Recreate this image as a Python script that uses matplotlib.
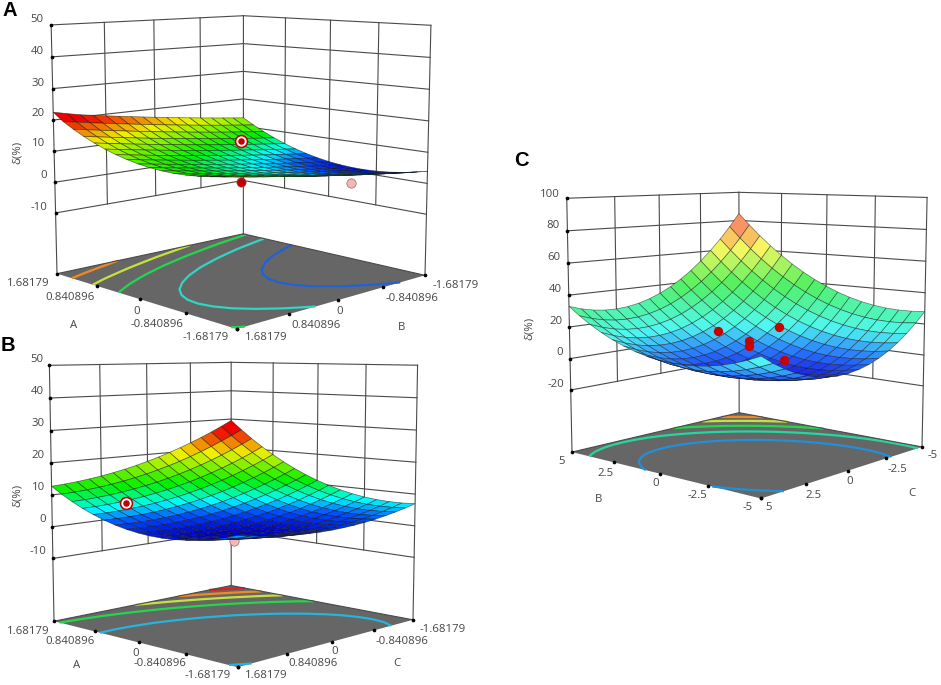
import numpy as np
import matplotlib
matplotlib.use('Agg')
import matplotlib.pyplot as plt
from matplotlib.colors import LinearSegmentedColormap
from mpl_toolkits.mplot3d import proj3d

W, H = 941, 685

A_AB = [
 [3.9,4.35,4.81,5.28,5.77,6.28,6.81,7.35,7.9,8.47,9.06,9.66,10.28,10.91,11.56,12.22,12.9],
 [2.95,3.4,3.86,4.33,4.82,5.33,5.86,6.4,6.95,7.52,8.11,8.71,9.33,9.96,10.61,11.27,11.95],
 [2.21,2.66,3.12,3.59,4.08,4.59,5.12,5.66,6.21,6.78,7.37,7.97,8.59,9.22,9.87,10.53,11.21],
 [1.66,2.11,2.57,3.04,3.53,4.04,4.57,5.11,5.66,6.23,6.82,7.42,8.04,8.67,9.32,9.98,10.66],
 [1.33,1.78,2.24,2.71,3.2,3.71,4.24,4.78,5.33,5.9,6.49,7.09,7.71,8.34,8.99,9.65,10.33],
 [1.19,1.64,2.1,2.57,3.06,3.57,4.1,4.64,5.19,5.76,6.35,6.95,7.57,8.2,8.85,9.51,10.19],
 [1.26,1.71,2.17,2.64,3.13,3.64,4.17,4.71,5.26,5.83,6.42,7.02,7.64,8.27,8.92,9.58,10.26],
 [1.53,1.98,2.44,2.91,3.4,3.91,4.44,4.98,5.53,6.1,6.69,7.29,7.91,8.54,9.19,9.85,10.53],
 [2,2.45,2.91,3.38,3.87,4.38,4.91,5.45,6,6.57,7.16,7.76,8.38,9.01,9.66,10.32,11],
 [2.68,3.13,3.59,4.06,4.55,5.06,5.59,6.13,6.68,7.25,7.84,8.44,9.06,9.69,10.34,11,11.68],
 [3.56,4.01,4.47,4.94,5.43,5.94,6.47,7.01,7.56,8.13,8.72,9.32,9.94,10.57,11.22,11.88,12.56],
 [4.64,5.09,5.55,6.02,6.51,7.02,7.55,8.09,8.64,9.21,9.8,10.4,11.02,11.65,12.3,12.96,13.64],
 [5.93,6.38,6.84,7.31,7.8,8.31,8.84,9.38,9.93,10.5,11.09,11.69,12.31,12.94,13.59,14.25,14.93],
 [7.41,7.86,8.32,8.79,9.28,9.79,10.32,10.86,11.41,11.98,12.57,13.17,13.79,14.42,15.07,15.73,16.41],
 [9.11,9.56,10.02,10.49,10.98,11.49,12.02,12.56,13.11,13.68,14.27,14.87,15.49,16.12,16.77,17.43,18.11],
 [11,11.45,11.91,12.38,12.87,13.38,13.91,14.45,15,15.57,16.16,16.76,17.38,18.01,18.66,19.32,20],
 [13.1,13.55,14.01,14.48,14.97,15.48,16.01,16.55,17.1,17.67,18.26,18.86,19.48,20.11,20.76,21.6,22.5]]
B_AC = [
 [7.0,6.13,5.39,4.74,4.2,3.77,3.44,3.22,3.1,3.08,3.19,3.39,3.7,4.12,4.63,5.27,6.0],
 [6.76,5.84,5.03,4.32,3.72,3.22,2.84,2.55,2.37,2.29,2.33,2.48,2.72,3.08,3.53,4.1,4.78],
 [6.75,5.76,4.89,4.12,3.46,2.9,2.45,2.1,1.86,1.72,1.7,1.78,1.96,2.26,2.65,3.16,3.77],
 [6.95,5.9,4.97,4.14,3.42,2.79,2.28,1.87,1.57,1.37,1.29,1.31,1.42,1.66,1.99,2.44,2.99],
 [7.37,6.26,5.27,4.38,3.59,2.91,2.34,1.86,1.5,1.24,1.09,1.05,1.11,1.28,1.55,1.94,2.43],
 [8.01,6.83,5.78,4.82,3.98,3.23,2.6,2.06,1.64,1.32,1.11,1.01,1.0,1.12,1.32,1.65,2.07],
 [8.87,7.64,6.52,5.5,4.6,3.79,3.09,2.5,2.01,1.62,1.36,1.19,1.12,1.18,1.32,1.58,1.95],
 [9.96,8.66,7.48,6.4,5.43,4.56,3.81,3.15,2.6,2.15,1.82,1.6,1.47,1.46,1.54,1.74,2.04],
 [11.25,9.89,8.65,7.51,6.48,5.55,4.73,4.01,3.4,2.89,2.5,2.21,2.02,1.95,1.97,2.11,2.35],
 [12.76,11.34,10.04,8.84,7.75,6.76,5.87,5.09,4.42,3.85,3.4,3.04,2.79,2.66,2.62,2.7,2.88],
 [14.5,13.01,11.65,10.39,9.23,8.18,7.24,6.39,5.66,5.03,4.51,4.1,3.79,3.59,3.49,3.51,3.62],
 [16.45,14.91,13.48,12.16,10.94,9.83,8.82,7.92,7.12,6.42,5.85,5.37,5.0,4.74,4.58,4.53,4.59],
 [18.63,17.02,15.53,14.14,12.87,11.69,10.62,9.66,8.8,8.04,7.41,6.87,6.43,6.12,5.89,5.78,5.77],
 [21.01,19.34,17.79,16.34,15.0,13.77,12.64,11.61,10.69,9.87,9.17,8.57,8.08,7.7,7.41,7.24,7.17],
 [23.61,21.88,20.27,18.76,17.36,16.06,14.87,13.78,12.8,11.92,11.16,10.5,9.94,9.5,9.15,8.92,8.79],
 [26.46,24.66,22.99,21.42,19.96,18.6,17.34,16.19,15.15,14.21,13.39,12.66,12.04,11.54,11.13,10.84,10.64],
 [29.5,27.65,25.91,24.28,22.76,21.33,20.02,18.8,17.7,16.7,15.81,15.03,14.34,13.78,13.31,12.95,12.7]]
C_BC = [
 [28,21.69,16.16,11.38,7.37,4.14,1.65,-.05,-1,-1.19,-.59,.76,2.88,5.76,9.4,13.83,19],
 [27.34,20.87,15.16,10.22,6.05,2.64,-.01,-1.89,-3,-3.35,-2.93,-1.74,.2,2.92,6.4,10.65,15.66],
 [27.26,20.62,14.74,9.63,5.29,1.72,-1.11,-3.15,-4.43,-4.95,-4.69,-3.68,-1.9,.65,3.96,8.04,12.88],
 [27.72,20.91,14.87,9.59,5.08,1.34,-1.65,-3.86,-5.31,-6.0,-5.91,-5.06,-3.45,-1.07,2.07,5.99,10.66],
 [28.74,21.77,15.56,10.11,5.43,1.52,-1.63,-4.01,-5.63,-6.49,-6.57,-5.88,-4.44,-2.23,.74,4.49,9.0],
 [30.34,23.19,16.82,11.2,6.35,2.28,-1.05,-3.59,-5.38,-6.41,-6.65,-6.14,-4.86,-2.82,-.02,3.57,7.9],
 [32.49,25.18,18.63,12.85,7.84,3.59,.1,-2.62,-4.57,-5.76,-6.18,-5.83,-4.73,-2.85,-.21,3.2,7.37],
 [35.22,27.73,21.02,15.07,9.89,5.48,1.81,-1.07,-3.19,-4.55,-5.13,-4.96,-4.02,-2.31,.16,3.41,7.4],
 [38.5,30.85,23.97,17.85,12.5,7.92,4.09,1.04,-1.25,-2.78,-3.53,-3.52,-2.75,-1.21,1.09,4.17,8.0],
 [42.34,34.53,27.48,21.19,15.67,10.92,6.93,3.71,1.25,-.45,-1.37,-1.52,-.92,.45,2.58,5.49,9.16],
 [46.76,38.77,31.56,25.1,19.41,14.5,10.33,6.95,4.32,2.45,1.37,1.04,1.48,2.68,4.64,7.39,10.88],
 [51.72,43.57,36.18,29.56,23.71,18.62,14.29,10.73,7.94,5.91,4.65,4.16,4.42,5.46,7.26,9.83,13.16],
 [57.26,48.93,41.38,34.59,28.57,23.32,18.81,15.09,12.13,9.93,8.51,7.84,7.94,8.81,10.44,12.85,16.0],
 [63.34,54.85,47.13,40.17,33.98,28.56,23.89,20.0,16.87,14.5,12.91,12.08,12.01,12.71,14.17,16.41,19.4],
 [70.0,61.34,53.46,46.33,39.97,34.38,29.55,25.49,22.19,19.65,17.89,16.9,16.66,17.19,18.48,20.56,23.38],
 [77.22,68.39,60.34,53.04,46.51,40.76,35.75,31.53,28.06,25.35,23.43,22.26,21.86,22.22,23.34,25.25,27.9],
 [85,76.01,67.78,60.32,53.63,47.7,42.53,38.13,34.5,31.63,29.53,28.2,27.62,27.82,28.78,30.51,33]]

ticks_coded = [-1.68179,-0.840896,0,0.840896,1.68179]
ticks_c = [-5,-2.5,0,2.5,5]
z_ticks_ab = [-10,0,10,20,30,40,50]
z_ticks_c = [-20,0,20,40,60,80,100]

A_levels = [5,9,12.5,15.5,19]
B_levels = [5.2,11.5,16.5,21,25.5]
C_levels = [9.5,25,39,54,68]
A_lc = ['#1f62d8','#2fd6c4','#22d84a','#c6e23a','#f08a20']
B_lc = ['#25b4dc','#22d84a','#c6e23a','#f08a20','#e02020']
C_lc = ['#2090d8','#22d8a0','#22d84a','#c6e23a','#f08a20']

A_ring = [0,0,13.5]
A_hidden = [[0,0,.3,'#c00000'],[-1,-1,0,'#f4b8b0']]
B_ring = [1,1,7.3]
B_hidden = [[0,0,-4.5,'#f4b8b0']]
C_pts = [[.85,.85,16.7],[-.85,-.85,19],[0,0,10],[0,0,7],[-1,-1,-2]]

rainbow = LinearSegmentedColormap.from_list('rb',[(0,'#0000c8'),(.1,'#0050ff'),(.2,'#00ffff'),(.36,'#00f000'),(.65,'#f0f000'),(.88,'#f00000'),(1,'#f00000')])
pale = LinearSegmentedColormap.from_list('pl',[(0,'#1818e0'),(.1,'#2878ff'),(.24,'#50f8f0'),(.5,'#50f060'),(.75,'#f8f860'),(.88,'#f8a060'),(1,'#f87070')])

fig = plt.figure(figsize=(W/100,H/100),dpi=100)
LC='#4a4a4a'

def panel(Zt, xt, zt, zfloor, vmin, vmax, cmap, levels, lcols, corners, elev, azim, focal, zasp, edge):
    Z=np.array(Zt,float); n=Z.shape[0]
    lo,hi=xt[0],xt[-1]
    g=np.linspace(lo,hi,n)
    X,Y=np.meshgrid(g,g,indexing='ij')
    ax=fig.add_axes([.1,.1,.5,.5*W/H],projection='3d',computed_zorder=False)
    ax.set_proj_type('persp',focal_length=focal)
    ax.view_init(elev=elev,azim=azim)
    ax.set_box_aspect((1,1,zasp))
    ax.set_xlim(lo,hi,view_margin=0);ax.set_ylim(lo,hi,view_margin=0);ax.set_zlim(zfloor,zt[-1],view_margin=0)
    ax.set_axis_off()
    ax.patch.set_visible(False)
    ax.plot_surface(np.array([[lo,lo],[hi,hi]]),np.array([[lo,hi],[lo,hi]]),np.full((2,2),zfloor),color='#666666',shade=False,zorder=1,linewidth=0)
    ax.contour(X,Y,Z,levels=levels,colors=lcols,linewidths=1.6,zdir='z',offset=zfloor,zorder=2)
    kw=dict(color=LC,lw=.8,zorder=3)
    for z in zt:
        ax.plot([hi,hi],[lo,hi],[z,z],**kw)
        ax.plot([lo,hi],[lo,lo],[z,z],**kw)
    for t in xt[1:-1]:
        ax.plot([hi,hi],[t,t],[zt[0],zt[-1]],**kw)
        ax.plot([t,t],[lo,lo],[zt[0],zt[-1]],**kw)
    ax.plot([hi,hi],[hi,hi],[zfloor,zt[-1]],**kw)
    ax.plot([hi,hi],[lo,lo],[zfloor,zt[-1]],**kw)
    ax.plot([lo,lo],[lo,lo],[zfloor,zt[-1]],**kw)
    ax.plot([hi,hi],[hi,lo],[zfloor,zfloor],**kw)
    ax.plot([hi,lo],[lo,lo],[zfloor,zfloor],**kw)
    dot=dict(c='k',s=7,depthshade=False,zorder=3,linewidths=0)
    ax.scatter([hi]*len(zt),[hi]*len(zt),zt,**dot)
    ax.scatter(list(xt),[hi]*5,[zfloor]*5,**dot)
    ax.scatter([lo]*5,list(xt),[zfloor]*5,**dot)
    ax.plot_surface(X,Y,Z,rcount=n,ccount=n,cmap=cmap,vmin=vmin,vmax=vmax,shade=False,edgecolor=(0.08,0.08,0.08,edge),linewidth=.5,zorder=4)
    (lx,ly),(rx,ry)=corners
    def meas():
        ax.apply_aspect()
        M=ax.get_proj()
        out=[]
        for P in [(hi,hi,zfloor),(lo,lo,zfloor)]:
            xd,yd,_=proj3d.proj_transform(*P,M)
            out.append(ax.transData.transform((xd,yd)))
        return np.array(out)
    S0=.5*W
    m=meas()
    S=S0*(rx-lx)/(m[1,0]-m[0,0])
    ax.set_position([.1,.1,S/W,S/H])
    m=meas()
    dx=(lx+rx)/2-m[:,0].mean(); dy=(H-(ly+ry)/2)-m[:,1].mean()
    ax.set_position([.1+dx/W,.1+dy/H,S/W,S/H])
    return ax

def ring(ax,p):
    for s,c in [(95,'#c00000'),(55,'#ffffff'),(22,'#c00000')]:
        ax.scatter([p[0]],[p[1]],[p[2]],c=c,s=s,depthshade=False,zorder=5,linewidths=0)
def hidden(ax,p):
    ax.scatter([p[0]],[p[1]],[p[2]],c=p[3],s=45,depthshade=False,zorder=3.5,linewidths=.4,edgecolors='#805050')

axA=panel(A_AB,ticks_coded,z_ticks_ab,-30,1,22.5,rainbow,A_levels,A_lc,((57,273),(425,276)),9,136,.53,.955,.6)
ring(axA,A_ring)
for p in A_hidden: hidden(axA,p)
axB=panel(B_AC,ticks_coded,z_ticks_ab,-30,1,29.5,rainbow,B_levels,B_lc,((54,621),(413,620)),7,134,.53,1.0,.6)
ring(axB,B_ring)
for p in B_hidden: hidden(axB,p)
axC=panel(C_BC,ticks_c,z_ticks_c,-60,-7,85,pale,C_levels,C_lc,((572,452),(922,447)),8,131.5,.53,1.01,.55)
for p in C_pts:
    axC.scatter([p[0]],[p[1]],[p[2]],c='#c80000',s=45,depthshade=False,zorder=5,linewidths=0)

def T(x,y,s,**k):
    d=dict(family='Open Sans',fontsize=8.2,color='#454545',ha='center',va='center')
    d.update(k)
    fig.text(x/W,1-y/H,s,**d)

zA=['50','40','30','20','10','0','-10']
for (x,y),s in zip([(37,20),(37,51),(38,83),(38,114),(39,144),(44,176),(39,207)],zA): T(x,y,s)
for (x,y),s in zip([(37,359),(37,392),(38,424),(38,456),(39,488),(43,520),(38,552)],zA): T(x,y,s)
for (x,y),s in zip([(550,194),(553,226),(554,258),(555,289),(556,322),(560,353),(556,384)],['100','80','60','40','20','0','-20']): T(x,y,s)
T(17,152,'δ(%)',rotation=90);T(17,495,'δ(%)',rotation=90);T(529,328,'δ(%)',rotation=90)

lA=['1.68179','0.840896','0','-0.840896','-1.68179']
lB=['-1.68179','-0.840896','0','0.840896','1.68179']
for (x,y),s in zip([(28,284),(70,297),(137,311),(157,324),(206,337)],lA): T(x,y,s)
for (x,y),s in zip([(456,285),(412,298),(340,312),(316,325),(266,337)],lB): T(x,y,s)
for (x,y),s in zip([(28,631),(70,642),(136,653),(160,664),(208,675)],lA): T(x,y,s)
for (x,y),s in zip([(443,629),(402,641),(335,652),(313,664),(266,675)],lB): T(x,y,s)
for (x,y),s in zip([(562,462),(605,473),(656,484),(697,496),(748,507)],['5','2.5','0','-2.5','-5']): T(x,y,s)
for (x,y),s in zip([(933,456),(897,469),(850,482),(814,495),(769,507)],['-5','-2.5','0','2.5','5']): T(x,y,s)
T(74,325,'A');T(402,327,'B');T(77,666,'A');T(397,664,'C');T(599,499,'B');T(912,494,'C')
for x,y,s in [(10,11,'A'),(8,345,'B'),(521,160,'C')]:
    T(x,y,s,family='Liberation Sans',fontsize=14.5,fontweight='bold',color='k')

fig.savefig('out.png',dpi=100)
